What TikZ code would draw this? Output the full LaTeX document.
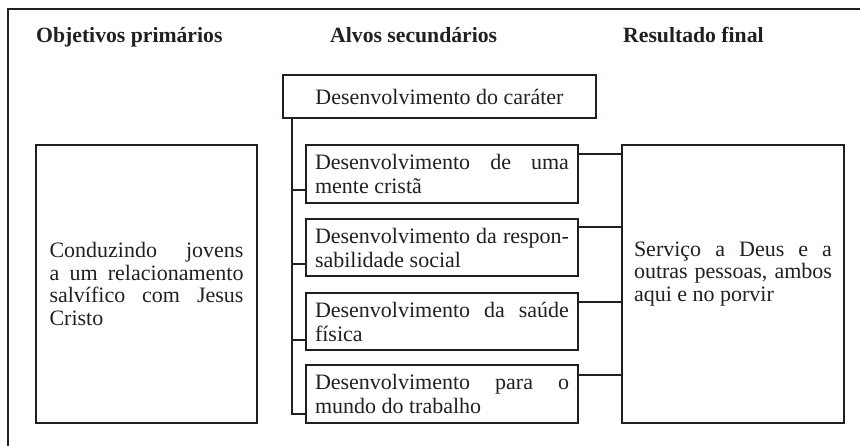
\documentclass[tikz,border=0pt]{standalone}
\usepackage{fontspec}
\setmainfont{Liberation Serif}
\usetikzlibrary{calc}
\definecolor{ink}{HTML}{231F20}
\begin{document}
\begin{tikzpicture}[x=1pt,y=-1pt,
  frame/.style={draw=ink, line width=2pt},
  conn/.style={draw=ink, line width=2pt},
  boxbase/.style={draw=ink, line width=2pt, rectangle, inner sep=0pt, text=ink},
  sidebox/.style={boxbase, minimum width=221pt, minimum height=278pt, text width=194pt, align=justify,
     font=\fontsize{22}{22.5}\selectfont},
  midbox/.style={boxbase, minimum width=272pt, text width=254pt, align=justify,
     font=\fontsize{22}{24}\selectfont},
  topbox/.style={boxbase, minimum width=313pt, minimum height=43pt, align=center,
     font=\fontsize{22}{24}\selectfont},
  head/.style={anchor=base west, inner sep=0pt, text=ink, font=\fontsize{21.7}{24}\selectfont\bfseries}]
\useasboundingbox (0,0) rectangle (860,446);
% outer frame (top and left edges only)
\coordinate (fr) at (860,9);
\coordinate (fc) at (8,9);
\coordinate (fb) at (8,446);
\draw[frame] (fr) -- (fc) -- (fb);
% headers
\node[head] (h1) at (36,43) {Objetivos primários};
\node[head] (h2) at (330,43) {Alvos secundários};
\node[head] (h3) at (623,43) {Resultado final};
% boxes
\node[topbox] (top) at (439.5,96.5) {Desenvolvimento do caráter};
\node[sidebox] (left) at (146.5,284) {\hyphenpenalty=10000 Conduzindo jovens\linebreak a um relacionamento\linebreak salvífico com Jesus\linebreak Cristo};
\node[midbox, minimum height=58pt] (m1) at (442,174) {Desenvolvimento de uma\linebreak mente cristã};
\node[midbox, minimum height=57pt] (m2) at (442,247.5) {Desenvolvimento da respon-\linebreak sabilidade social};
\node[midbox, minimum height=57pt] (m3) at (442,321.5) {Desenvolvimento da saúde\linebreak física};
\node[midbox, minimum height=58pt] (m4) at (442,394) {Desenvolvimento para o\linebreak mundo do trabalho};
\node[sidebox, minimum width=222pt, text width=198pt] (right) at (733,284) {\hyphenpenalty=10000 Serviço a Deus e a\linebreak outras pessoas, ambos\linebreak aqui e no porvir\par\vspace{20pt}};
% trunk and stubs on the left of the middle boxes
\coordinate (tx) at ($(top.south west)+(10,0)$);
\coordinate (s1) at ($(m1.south west)+(0,-14)$);
\coordinate (s2) at ($(m2.south west)+(0,-13)$);
\coordinate (s3) at ($(m3.south west)+(0,-11)$);
\coordinate (s4) at ($(m4.south west)+(0,-10)$);
\draw[conn] (tx) |- (s4);
\draw[conn] (s1) -- (tx |- s1);
\draw[conn] (s2) -- (tx |- s2);
\draw[conn] (s3) -- (tx |- s3);
% connectors to the result box
\coordinate (r1) at ($(m1.north east)+(0,10)$);
\coordinate (r2) at ($(m2.north east)+(0,9)$);
\coordinate (r3) at ($(m3.north east)+(0,10)$);
\coordinate (r4) at ($(m4.north east)+(0,11)$);
\draw[conn] (r1) -- (r1 -| right.west);
\draw[conn] (r2) -- (r2 -| right.west);
\draw[conn] (r3) -- (r3 -| right.west);
\draw[conn] (r4) -- (r4 -| right.west);
\end{tikzpicture}
\end{document}
